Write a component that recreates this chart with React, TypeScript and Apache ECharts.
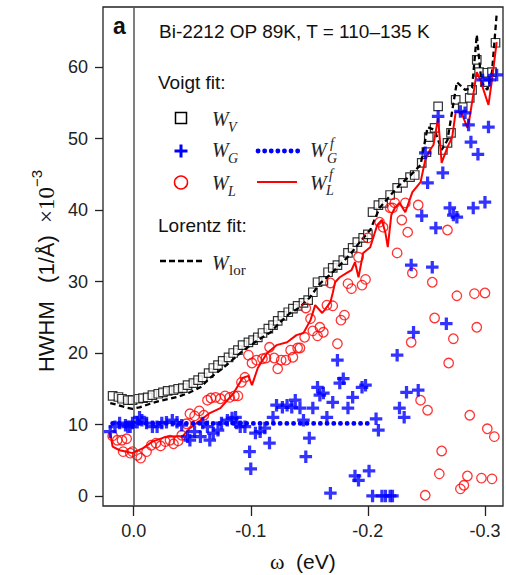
import React, { useEffect, useRef } from "react";
import * as echarts from "echarts";

// ω (eV), HWHM (1/Å ×10^-3)
const wV: [number, number][] = [
  [0.018, 14.0], [0.013, 13.85], [0.01, 13.6], [0.005, 13.4], [0.001, 13.4],
  [-0.004, 13.6], [-0.008, 13.7], [-0.012, 13.8], [-0.016, 14.1], [-0.021, 14.3],
  [-0.025, 14.5], [-0.029, 14.7], [-0.034, 14.8], [-0.038, 15.0], [-0.042, 15.1],
  [-0.046, 15.5], [-0.051, 15.8], [-0.055, 16.2], [-0.059, 16.6], [-0.064, 17.2],
  [-0.068, 17.9], [-0.072, 18.3], [-0.076, 18.9], [-0.081, 19.4], [-0.085, 20.0],
  [-0.089, 20.4], [-0.093, 21.1], [-0.098, 21.5], [-0.102, 21.8], [-0.106, 22.2],
  [-0.11, 22.8], [-0.115, 23.4], [-0.119, 23.9], [-0.123, 24.5], [-0.127, 25.2],
  [-0.132, 25.7], [-0.136, 26.2], [-0.14, 26.6], [-0.145, 27.0], [-0.149, 27.4],
  [-0.153, 28.5], [-0.157, 29.9], [-0.162, 30.1], [-0.166, 31.3], [-0.17, 31.9],
  [-0.174, 32.3], [-0.179, 33.0], [-0.183, 34.0], [-0.187, 34.7], [-0.191, 35.5],
  [-0.196, 36.1], [-0.2, 36.6], [-0.204, 39.7], [-0.209, 40.7], [-0.213, 41.0],
  [-0.219, 42.1], [-0.225, 43.1], [-0.23, 43.8], [-0.236, 44.6], [-0.24, 44.9],
  [-0.246, 46.6], [-0.25, 48.1], [-0.252, 50.2], [-0.257, 51.5], [-0.26, 54.5],
  [-0.264, 48.4], [-0.268, 49.4], [-0.271, 50.8], [-0.275, 55.4], [-0.281, 54.4],
  [-0.287, 55.7], [-0.289, 56.8], [-0.293, 61.0], [-0.295, 59.3], [-0.3, 57.9],
  [-0.302, 59.2], [-0.306, 59.3], [-0.309, 63.4],
];

const wG: [number, number][] = [
  [0.02, 9.0], [0.016, 9.7], [0.012, 10.2], [0.007, 9.9], [0.005, 9.7],
  [0.003, 9.7], [0.001, 10.2], [-0.003, 10.3], [-0.005, 11.0], [-0.007, 10.6],
  [-0.011, 10.2], [-0.016, 9.7], [-0.02, 9.7], [-0.024, 10.2], [-0.028, 10.3],
  [-0.033, 10.6], [-0.037, 10.3], [-0.041, 9.9], [-0.046, 8.3], [-0.048, 7.8],
  [-0.052, 9.0], [-0.057, 8.3], [-0.059, 10.2], [-0.063, 9.7], [-0.065, 7.8],
  [-0.068, 8.8], [-0.072, 9.2], [-0.075, 10.2], [-0.08, 10.6], [-0.084, 10.9],
  [-0.087, 11.0], [-0.088, 10.2], [-0.091, 9.7], [-0.095, 9.7], [-0.099, 6.2],
  [-0.1, 3.8], [-0.104, 8.8], [-0.108, 9.0], [-0.112, 9.5], [-0.116, 7.4],
  [-0.119, 11.0], [-0.122, 12.7], [-0.127, 12.4], [-0.131, 12.7], [-0.135, 12.4],
  [-0.138, 13.4], [-0.142, 12.3], [-0.145, 10.6], [-0.147, 5.5], [-0.15, 8.1],
  [-0.153, 12.3], [-0.157, 15.2], [-0.159, 14.1], [-0.162, 14.4], [-0.165, 11.0],
  [-0.168, 0.4], [-0.17, 13.1], [-0.174, 19.0], [-0.176, 15.8], [-0.179, 16.4],
  [-0.183, 12.3], [-0.187, 13.8], [-0.189, 2.8], [-0.192, 2.2], [-0.195, 15.2],
  [-0.198, 15.5], [-0.201, 3.5], [-0.204, 0.0], [-0.207, 10.8], [-0.209, 9.2],
  [-0.212, 0.0], [-0.215, 0.0], [-0.219, 0.0], [-0.221, 0.0], [-0.225, 19.7],
  [-0.227, 12.3], [-0.231, 11.0], [-0.233, 14.5], [-0.237, 32.3], [-0.239, 22.9],
  [-0.243, 14.8], [-0.246, 39.2], [-0.249, 48.0], [-0.251, 43.8], [-0.255, 32.0],
  [-0.258, 37.5], [-0.26, 53.1], [-0.264, 45.2], [-0.267, 24.1], [-0.27, 40.3],
  [-0.273, 39.3], [-0.276, 39.0], [-0.279, 53.8], [-0.283, 53.6], [-0.286, 51.9],
  [-0.288, 49.5], [-0.29, 40.3], [-0.294, 47.8], [-0.298, 58.2], [-0.3, 41.1],
  [-0.303, 51.6], [-0.304, 58.2], [-0.31, 58.9],
];

const wL: [number, number][] = [
  [0.018, 8.4], [0.014, 7.8], [0.01, 7.8], [0.009, 6.2], [0.006, 8.0],
  [0.003, 6.0], [0.001, 6.2], [-0.003, 5.7], [-0.006, 5.3], [-0.011, 6.2],
  [-0.015, 7.1], [-0.019, 7.4], [-0.023, 7.0], [-0.027, 7.6], [-0.031, 7.8],
  [-0.034, 7.3], [-0.038, 7.7], [-0.041, 8.5], [-0.045, 10.1], [-0.048, 11.5],
  [-0.052, 11.2], [-0.056, 11.9], [-0.06, 11.3], [-0.063, 13.4], [-0.066, 13.7],
  [-0.07, 13.8], [-0.074, 13.6], [-0.078, 14.0], [-0.082, 13.8], [-0.086, 14.0],
  [-0.089, 14.0], [-0.092, 15.9], [-0.095, 16.6], [-0.098, 19.7], [-0.101, 18.6],
  [-0.105, 19.0], [-0.11, 19.2], [-0.113, 19.3], [-0.116, 20.8], [-0.12, 19.3],
  [-0.123, 17.8], [-0.126, 19.0], [-0.13, 19.0], [-0.134, 20.4], [-0.136, 19.4],
  [-0.14, 20.7], [-0.142, 20.7], [-0.146, 22.2], [-0.147, 26.3], [-0.151, 24.8],
  [-0.153, 23.1], [-0.157, 22.4], [-0.159, 23.6], [-0.162, 22.9], [-0.165, 26.7],
  [-0.168, 29.8], [-0.17, 26.6], [-0.174, 21.3], [-0.177, 24.6], [-0.18, 25.3],
  [-0.183, 29.7], [-0.186, 29.0], [-0.192, 33.4], [-0.195, 29.5], [-0.198, 30.3],
  [-0.2, 36.1], [-0.21, 38.3], [-0.213, 37.6], [-0.219, 40.3], [-0.221, 40.3],
  [-0.223, 41.0], [-0.225, 34.0], [-0.229, 38.6], [-0.232, 41.0], [-0.234, 36.9],
  [-0.237, 21.5], [-0.238, 31.2], [-0.243, 40.7], [-0.245, 13.4], [-0.249, 0.1],
  [-0.251, 12.0], [-0.255, 29.9], [-0.257, 24.9], [-0.261, 3.1], [-0.263, 6.3],
  [-0.268, 37.2], [-0.269, 18.6], [-0.273, 22.0], [-0.276, 28.0], [-0.279, 1.0],
  [-0.282, 1.5], [-0.285, 2.8], [-0.287, 11.3], [-0.291, 28.3], [-0.293, 23.6],
  [-0.297, 2.5], [-0.3, 28.4], [-0.302, 9.4], [-0.306, 2.4], [-0.308, 8.3],
];

const wGf: [number, number][] = [
  [0.018, 10.15], [-0.205, 10.15],
];

const wLf: [number, number][] = [
  [0.02, 8.8], [0.018, 6.9], [0.012, 6.4], [0.006, 6.2], [0.001, 6.0],
  [-0.008, 6.7], [-0.016, 7.6], [-0.028, 8.3], [-0.042, 8.4], [-0.048, 9.5],
  [-0.057, 10.6], [-0.065, 11.6], [-0.074, 12.3], [-0.085, 14.3], [-0.093, 16.5],
  [-0.098, 16.8], [-0.101, 15.5], [-0.106, 17.9], [-0.114, 20.0], [-0.122, 21.1],
  [-0.131, 21.5], [-0.139, 22.5], [-0.145, 22.8], [-0.151, 24.6], [-0.155, 26.7],
  [-0.161, 25.6], [-0.163, 26.0], [-0.168, 27.1], [-0.17, 28.4], [-0.172, 29.9],
  [-0.176, 30.6], [-0.182, 31.2], [-0.186, 31.6], [-0.189, 32.7], [-0.192, 30.6],
  [-0.196, 34.0], [-0.202, 34.8], [-0.208, 37.9], [-0.212, 38.6], [-0.215, 36.8],
  [-0.217, 34.8], [-0.22, 39.3], [-0.223, 40.3], [-0.227, 41.0], [-0.232, 39.7],
  [-0.238, 42.5], [-0.245, 43.9], [-0.249, 47.0], [-0.253, 48.4], [-0.256, 49.1],
  [-0.26, 52.9], [-0.263, 46.6], [-0.268, 48.8], [-0.272, 50.2], [-0.275, 53.7],
  [-0.28, 53.6], [-0.285, 51.5], [-0.287, 53.0], [-0.293, 59.3], [-0.296, 58.2],
  [-0.303, 54.7], [-0.306, 58.2], [-0.31, 63.5],
];

const wLor: [number, number][] = [
  [0.02, 13.0], [0.013, 12.7], [0.007, 12.4], [0.001, 12.2], [-0.005, 12.4],
  [-0.014, 12.9], [-0.022, 13.3], [-0.031, 13.6], [-0.04, 14.0], [-0.048, 14.5],
  [-0.057, 15.2], [-0.065, 16.5], [-0.074, 17.6], [-0.082, 18.7], [-0.091, 20.0],
  [-0.099, 21.0], [-0.108, 22.0], [-0.117, 22.9], [-0.125, 24.3], [-0.133, 25.5],
  [-0.142, 26.4], [-0.15, 27.7], [-0.159, 29.7], [-0.168, 31.0], [-0.176, 32.3],
  [-0.185, 33.8], [-0.193, 35.5], [-0.202, 37.2], [-0.21, 40.3], [-0.219, 42.0],
  [-0.227, 43.5], [-0.236, 44.8], [-0.245, 46.3], [-0.251, 51.6], [-0.257, 51.2],
  [-0.263, 48.4], [-0.268, 49.8], [-0.276, 57.9], [-0.283, 56.8], [-0.289, 57.1],
  [-0.293, 64.5], [-0.297, 57.9], [-0.302, 56.8], [-0.306, 59.3], [-0.31, 67.4],
];

const xTicks = [0, -0.1, -0.2, -0.3];
const yTicks = [0, 10, 20, 30, 40, 50, 60];

const SANS = "Liberation Sans";
const SERIF = "Liberation Serif";
const BLUE = "#0000ff";
const RED = "#ff0000";

function wText(x: number, y: number, t: string, size = 20, italic = true) {
  return {
    type: "text",
    x,
    y,
    style: {
      text: t,
      fontFamily: SERIF,
      fontStyle: italic ? "italic" : "normal",
      fontSize: size,
      fill: "#222",
      align: "left",
      verticalAlign: "middle",
    },
  };
}

function sansText(x: number, y: number, t: string, size = 19, weight = "normal") {
  return {
    type: "text",
    x,
    y,
    style: {
      text: t,
      fontFamily: SANS,
      fontSize: size,
      fontWeight: weight,
      fill: "#111",
      align: "left",
      verticalAlign: "middle",
    },
  };
}

export default function App() {
  const ref = useRef<HTMLDivElement>(null);
  useEffect(() => {
    const chart = echarts.init(ref.current!, null, { renderer: "svg" });
    chart.setOption({
      animation: false,
      backgroundColor: "#fff",
      grid: {
        left: 103,
        top: 7,
        width: 400,
        height: 499,
        show: true,
        borderColor: "#222",
        borderWidth: 1.3,
        backgroundColor: "transparent",
      },
      xAxis: {
        type: "value",
        inverse: true,
        min: -0.3154,
        max: 0.0262,
        axisLine: { show: false, onZero: false },
        splitLine: { show: false },
        axisTick: {
          show: true,
          length: 10,
          customValues: xTicks,
          lineStyle: { color: "#222", width: 1.3 },
        },
        axisLabel: {
          customValues: xTicks,
          formatter: (v: number) => (v === 0 ? "0.0" : v.toFixed(1)),
          fontSize: 18,
          fontFamily: SANS,
          color: "#222",
          margin: 16,
        },
      },
      yAxis: {
        type: "value",
        min: -1.4,
        max: 68.4,
        axisLine: { show: false, onZero: false },
        splitLine: { show: false },
        axisTick: {
          show: true,
          length: 8,
          customValues: yTicks,
          lineStyle: { color: "#222", width: 1.3 },
        },
        axisLabel: {
          customValues: yTicks,
          fontSize: 18,
          fontFamily: SANS,
          color: "#222",
          margin: 15,
        },
      },
      series: [
        {
          type: "scatter",
          name: "WV",
          data: wV,
          symbol: "rect",
          symbolSize: 8.5,
          itemStyle: { color: "#fff", borderColor: "#000", borderWidth: 1.2 },
          z: 2,
          markLine: {
            silent: true,
            symbol: "none",
            label: { show: false },
            lineStyle: { color: "#555", width: 1.5, type: "solid" },
            data: [{ xAxis: 0 }],
          },
        },
        {
          type: "line",
          name: "Wlor",
          data: wLor,
          showSymbol: false,
          lineStyle: { color: "#000", width: 2.3, type: [5.5, 3.5] },
          z: 3,
        },
        {
          type: "scatter",
          name: "WL",
          data: wL,
          symbol: "circle",
          symbolSize: 9.5,
          itemStyle: { color: "rgba(0,0,0,0)", borderColor: RED, borderWidth: 1.3 },
          z: 4,
        },
        {
          type: "line",
          name: "WLf",
          data: wLf,
          showSymbol: false,
          lineStyle: { color: RED, width: 2 },
          z: 5,
        },
        {
          type: "scatter",
          name: "WG",
          data: wG,
          symbol: "path://M0,3.7H10V6.3H0Z M3.7,0H6.3V10H3.7Z",
          symbolSize: 12.5,
          itemStyle: { color: BLUE },
          z: 6,
        },
        {
          type: "line",
          name: "WGf",
          data: wGf,
          showSymbol: false,
          lineStyle: { color: BLUE, width: 4.8, type: [0.1, 6.6], cap: "round" },
          z: 7,
        },
      ],
      graphic: [
        sansText(113, 26, "a", 23, "bold"),
        sansText(159, 31.5, "Bi-2212 OP 89K, T = 110–135 K", 19),
        sansText(158, 82, "Voigt fit:", 19),
        sansText(158, 225.5, "Lorentz fit:", 19),
        // legend markers
        {
          type: "rect",
          shape: { x: 175.5, y: 112.5, width: 11, height: 11 },
          style: { fill: "#fff", stroke: "#000", lineWidth: 1.5 },
        },
        { type: "rect", shape: { x: 174.5, y: 149.5, width: 13, height: 3 }, style: { fill: BLUE } },
        { type: "rect", shape: { x: 179.5, y: 144.5, width: 3, height: 13 }, style: { fill: BLUE } },
        {
          type: "circle",
          shape: { cx: 181, cy: 182.5, r: 6.5 },
          style: { fill: "none", stroke: RED, lineWidth: 1.5 },
        },
        {
          type: "line",
          shape: { x1: 258, y1: 151, x2: 300, y2: 151 },
          style: { stroke: BLUE, lineWidth: 4.8, lineDash: [0.1, 6.5], lineCap: "round" },
        },
        {
          type: "line",
          shape: { x1: 257, y1: 182, x2: 297, y2: 182 },
          style: { stroke: RED, lineWidth: 2 },
        },
        {
          type: "line",
          shape: { x1: 160, y1: 261, x2: 202, y2: 261 },
          style: { stroke: "#000", lineWidth: 2.5, lineDash: [6, 3] },
        },
        // legend labels
        wText(212, 119, "W"),
        wText(228, 127, "V", 14),
        wText(212, 150, "W"),
        wText(228, 158, "G", 14),
        wText(310, 150, "W"),
        wText(330, 143, "f", 14),
        wText(327, 158, "G", 14),
        wText(212, 182.5, "W"),
        wText(228, 191, "L", 14),
        wText(310, 182.5, "W"),
        wText(329, 174, "f", 14),
        wText(326, 190, "L", 14),
        wText(212, 262.5, "W"),
        wText(229, 270, "lor", 15, false),
        // axis titles
        {
          type: "text",
          x: 270,
          y: 561,
          style: {
            text: "ω",
            fontFamily: SERIF,
            fontSize: 22,
            fill: "#111",
            align: "left",
            verticalAlign: "middle",
          },
        },
        {
          type: "text",
          x: 296,
          y: 561,
          style: {
            text: "(eV)",
            fontFamily: SANS,
            fontSize: 21,
            fill: "#111",
            align: "left",
            verticalAlign: "middle",
          },
        },
        {
          type: "text",
          x: 46,
          y: 271,
          rotation: Math.PI / 2,
          style: {
            text: "{a|HWHM   (1/Å)  }{b|×10}{c|−3}",
            align: "center",
            verticalAlign: "middle",
            fill: "#111",
            rich: {
              a: { fontFamily: SANS, fontSize: 22, lineHeight: 34, fill: "#111" },
              b: { fontFamily: SERIF, fontSize: 23, lineHeight: 34, fill: "#111" },
              c: {
                fontFamily: SANS,
                fontSize: 15,
                lineHeight: 15,
                verticalAlign: "top",
                fill: "#111",
              },
            },
          },
        },
      ],
    });
    return () => chart.dispose();
  }, []);
  return (
    <div
      ref={ref}
      style={{ position: "fixed", left: 0, top: 0, width: 506, height: 575 }}
    />
  );
}
